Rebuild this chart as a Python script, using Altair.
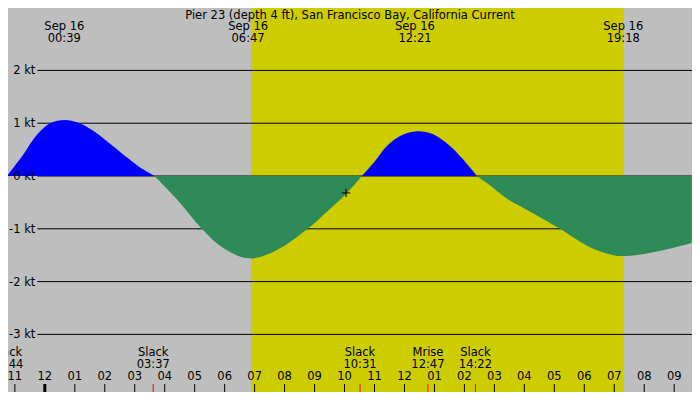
import altair as alt
import pandas as pd

# tidal current, hours from midnight Sep 16 and speed in knots (flood > 0)
hours = [-1.267, -0.74, -0.25, 0.18, 0.67, 1.16, 1.71, 2.25, 2.79, 3.23, 3.66,
         4.42, 5.24, 5.94, 6.81, 7.68, 8.77, 9.42, 10.07, 10.58,
         11.00, 11.43, 11.98, 12.47, 12.96, 13.50, 13.93, 14.42,
         14.86, 15.40, 16.27, 17.19, 18.12, 18.98, 19.53, 20.51, 21.59]
speeds = [0.0, 0.39, 0.79, 1.00, 1.06, 1.00, 0.82, 0.58, 0.33, 0.14, 0.0,
          -0.45, -1.00, -1.36, -1.56, -1.42, -1.00, -0.67, -0.33, 0.0,
          0.27, 0.58, 0.79, 0.85, 0.79, 0.58, 0.33, 0.0,
          -0.18, -0.42, -0.70, -1.00, -1.33, -1.50, -1.51, -1.42, -1.27]

max_hours = [0.65, 6.783, 12.35, 19.3]
max_labels = ["00:39", "06:47", "12:21", "19:18"]

event_hours = [-1.267, 3.617, 10.517, 12.783, 14.367]
event_names = ["Slack", "Slack", "Slack", "Mrise", "Slack"]
event_times = ["22:44", "03:37", "10:31", "12:47", "14:22"]

grid_kt = [2, 1, 0, -1, -2, -3]
grid_labels = ["2 kt", "1 kt", "0 kt", "-1 kt", "-2 kt", "-3 kt"]

tick_hours = list(range(-1, 22))
sunrise, sunset = 6.89, 19.31
now_hour, now_speed = 10.05, -0.32

W, H = 684, 384
SX = W / 700


def px(x):
    return x * SX


def pb(y):
    # rows under the plot keep their spacing, anchored to the bottom edge
    return H - (400 - y)


# split the curve into flood / ebb lobes at the slack points
rows = []
lobe = 0
for i, (h, v) in enumerate(zip(hours, speeds)):
    if v == 0 and i > 0:
        rows.append({"h": h, "v": v, "lobe": lobe})
        lobe += 1
    rows.append({"h": h, "v": v, "lobe": lobe})
curve = pd.DataFrame(rows)
curve["base"] = 0.0
kind = curve.groupby("lobe")["v"].transform("sum")
curve["kind"] = ["flood" if k > 0 else "ebb" for k in kind]

xs = alt.Scale(domain=[-1.229, 21.594], nice=False, zero=False)
ys = alt.Scale(domain=[-4.091, 3.182], nice=False, zero=False)
font = "DejaVu Sans"
fs = 11.5

day = (
    alt.Chart(pd.DataFrame({"a": [sunrise], "b": [sunset]}))
    .mark_rect(color="#cccc00")
    .encode(x=alt.X("a:Q", scale=xs, axis=None), x2="b:Q",
            y=alt.value(0), y2=alt.value(H))
)

grid = (
    alt.Chart(pd.DataFrame({"kt": grid_kt, "label": grid_labels}))
    .mark_rule(color="black", strokeWidth=1)
    .encode(y=alt.Y("kt:Q", scale=ys, axis=None),
            x=alt.value(px(30)), x2=alt.value(W))
)

grid_text = (
    alt.Chart(pd.DataFrame({"kt": grid_kt, "label": grid_labels}))
    .mark_text(align="right", baseline="middle", font=font, fontSize=fs, color="black", dy=1)
    .encode(y=alt.Y("kt:Q", scale=ys, axis=None), x=alt.value(px(28)), text="label:N")
)

area = (
    alt.Chart(curve)
    .mark_area(interpolate="catmull-rom")
    .encode(
        x=alt.X("h:Q", scale=xs, axis=None),
        y=alt.Y("v:Q", scale=ys, axis=None),
        y2="base:Q",
        color=alt.Color("kind:N", scale=alt.Scale(domain=["flood", "ebb"], range=["#0000ff", "#2e8b57"]), legend=None),
        detail="lobe:N",
    )
)

now = (
    alt.Chart(pd.DataFrame({"h": [now_hour], "v": [now_speed]}))
    .mark_point(shape="M-1,0L1,0M0,-1L0,1", size=70, filled=False, color="black", strokeWidth=1, opacity=1)
    .encode(x=alt.X("h:Q", scale=xs, axis=None), y=alt.Y("v:Q", scale=ys, axis=None))
)

title = (
    alt.Chart(pd.DataFrame({"t": ["Pier 23 (depth 4 ft), San Francisco Bay, California Current"]}))
    .mark_text(font=font, fontSize=fs, color="black", baseline="middle")
    .encode(x=alt.value(px(350)), y=alt.value(7.5), text="t:N")
)

maxima = pd.DataFrame({"h": max_hours, "time": max_labels, "day": ["Sep 16"] * 4})
max_day = (
    alt.Chart(maxima)
    .mark_text(font=font, fontSize=fs, color="black", baseline="middle")
    .encode(x=alt.X("h:Q", scale=xs, axis=None), y=alt.value(19), text="day:N")
)
max_time = max_day.encode(text="time:N", y=alt.value(31))

events = pd.DataFrame({"h": event_hours, "name": event_names, "time": event_times})
ev_name = (
    alt.Chart(events)
    .mark_text(font=font, fontSize=fs, color="black", baseline="middle")
    .encode(x=alt.X("h:Q", scale=xs, axis=None), y=alt.value(pb(361)), text="name:N")
)
ev_time = ev_name.encode(text="time:N", y=alt.value(pb(373)))
ev_tick = (
    alt.Chart(events)
    .mark_rule(color="red", strokeWidth=1)
    .encode(x=alt.X("h:Q", scale=xs, axis=None), y=alt.value(pb(392)), y2=alt.value(H))
)

ticks = pd.DataFrame({"h": tick_hours, "w": [3 if h == 0 else 1 for h in tick_hours]})
hour_text = (
    alt.Chart(ticks)
    .mark_text(font=font, fontSize=fs, color="black", baseline="middle")
    .encode(
        x=alt.X("h:Q", scale=xs, axis=None),
        y=alt.value(pb(385)),
        text=alt.Text("label:N"),
    )
    .transform_calculate(
        label="((datum.h + 24) % 12 == 0) ? '12' : ((((datum.h + 24) % 12) < 10 ? '0' : '') + ((datum.h + 24) % 12))"
    )
)
hour_tick = (
    alt.Chart(ticks)
    .mark_rule(color="black")
    .encode(
        x=alt.X("h:Q", scale=xs, axis=None),
        y=alt.value(pb(392)),
        y2=alt.value(H),
        strokeWidth=alt.StrokeWidth("w:Q", scale=None),
    )
)

chart = (
    alt.layer(day, grid, area, grid_text, now, title, max_day, max_time,
              ev_name, ev_time, ev_tick, hour_text, hour_tick)
    .properties(width=W, height=H, background="#bebebe", padding=0,
                autosize=alt.AutoSizeParams(type="none"))
    .configure_view(stroke=None, fill="#bebebe")
)

chart.save("out.html", embed_options={"renderer": "svg", "actions": False})
